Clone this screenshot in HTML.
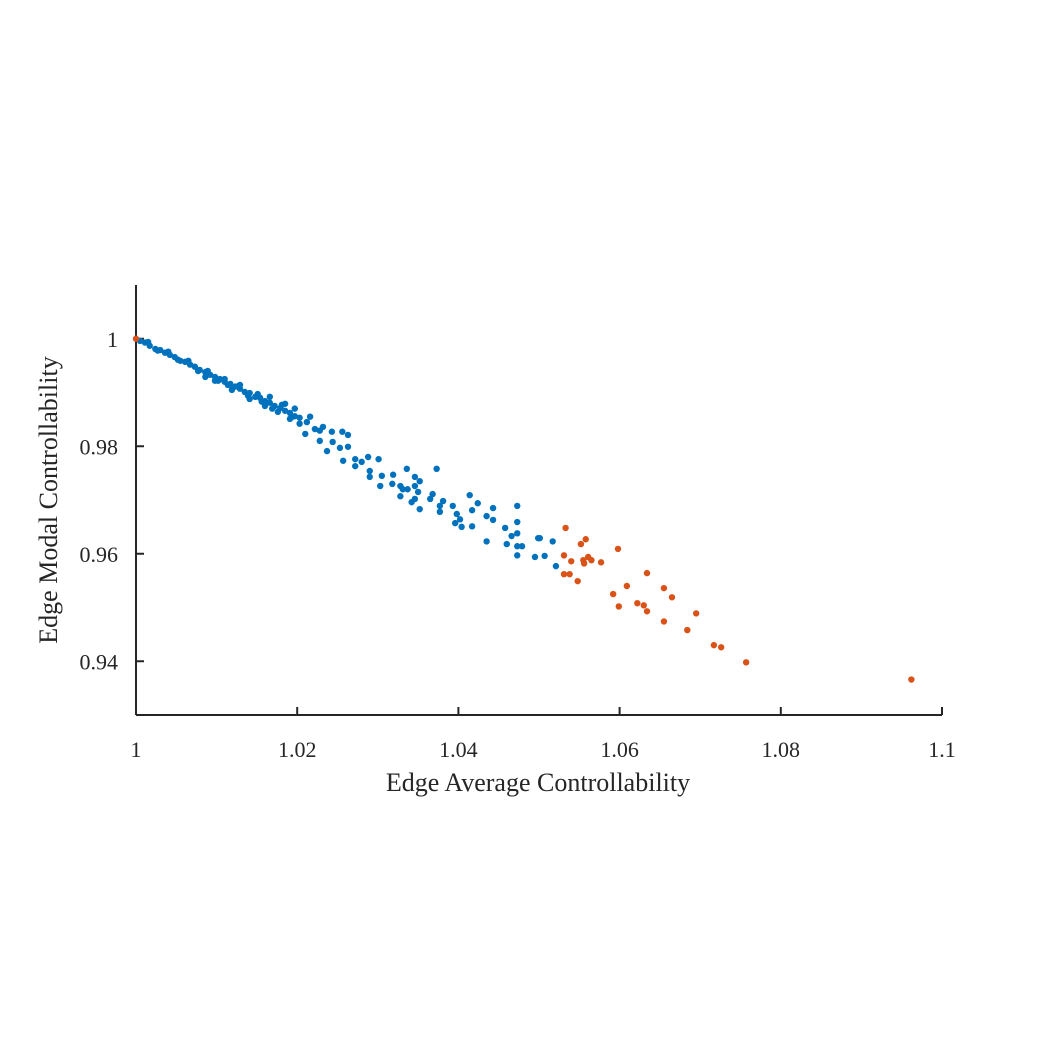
<!DOCTYPE html>
<html><head><meta charset="utf-8"><style>
body{margin:0;background:#fff}
svg text{font-family:"Liberation Serif",serif;fill:#262626}
</style></head><body>
<svg id="chart" width="1042" height="1042" viewBox="0 0 1042 1042" xmlns="http://www.w3.org/2000/svg">
<g id="axes"></g>
<g id="marks"></g>
<text x="538" y="791" font-size="26" text-anchor="middle">Edge Average Controllability</text>
<text transform="translate(57,500) rotate(-90)" font-size="26" text-anchor="middle">Edge Modal Controllability</text>
</svg>
<script>
const xTicks=[1,1.02,1.04,1.06,1.08,1.1];
const xTickLabels=["1","1.02","1.04","1.06","1.08","1.1"];
const yTicks=[0.94,0.96,0.98,1];
const yTickLabels=["0.94","0.96","0.98","1"];
const blueX=[1.0005,1.0011,1.0017,1.0024,1.0030,1.0036,1.0042,1.0048,1.0055,1.0061,1.0067,1.0073,1.0079,1.0086,1.0092,1.0098,1.0104,1.0110,1.0117,1.0123,1.0129,1.0135,1.0141,1.0148,1.0154,1.0160,1.0166,1.0172,1.0179,1.0185,1.0191,1.0197,1.0203,
1.0086,1.0098,1.0110,1.0119,1.0129,1.0141,1.0151,1.0160,1.0166,1.0176,1.0185,1.0191,1.0197,1.0203,1.0216,1.0222,1.0210,1.0228,1.0015,1.0027,1.0040,1.0052,1.0065,1.0077,1.0089,1.0102,1.0114,1.0127,1.0139,1.0156,1.0169,1.0181,1.0194,
1.0212,1.0232,1.0243,1.0256,1.0263,1.0228,1.0244,1.0253,1.0263,1.0237,1.0257,1.0272,1.0280,1.0288,1.0301,1.0272,1.0290,1.0305,1.0319,1.0336,1.0373,1.0290,1.0303,1.0318,1.0328,1.0346,1.0352,1.0331,1.0337,1.0346,1.0328,1.0342,1.0350,1.0346,1.0365,1.0368,1.0381,1.0377,1.0352,1.0377,1.0393,1.0414,1.0424,1.0417,1.0398,1.0402,1.0396,1.0404,1.0417,1.0443,1.0435,1.0443,1.0473,1.0473,1.0458,1.0466,1.0473,1.0435,1.0460,1.0473,1.0479,1.0473,1.0495,1.0501,1.0507,1.0499,1.0517,1.0521];
const blueY=[0.9996,0.9993,0.9987,0.9981,0.9979,0.9974,0.9970,0.9966,0.9959,0.9957,0.9952,0.9948,0.9942,0.9938,0.9933,0.9929,0.9925,0.9920,0.9916,0.9911,0.9907,0.9901,0.9899,0.9892,0.9890,0.9884,0.9881,0.9875,0.9871,0.9866,0.9862,0.9856,0.9853,
0.9929,0.9922,0.9925,0.9905,0.9914,0.9888,0.9897,0.9875,0.9892,0.9864,0.9879,0.9851,0.9870,0.9842,0.9855,0.9832,0.9823,0.9829,0.9994,0.9978,0.9976,0.9961,0.9959,0.9940,0.9940,0.9922,0.9914,0.9912,0.9894,0.9883,0.9870,0.9877,0.9855,
0.9845,0.9836,0.9827,0.9827,0.9821,0.9810,0.9808,0.9797,0.9799,0.9791,0.9773,0.9776,0.9771,0.9780,0.9776,0.9763,0.9754,0.9745,0.9747,0.9758,0.9758,0.9743,0.9726,0.9730,0.9726,0.9743,0.9735,0.9720,0.9720,0.9726,0.9707,0.9696,0.9715,0.9702,0.9702,0.9711,0.9698,0.9689,0.9683,0.9678,0.9689,0.9709,0.9694,0.9681,0.9674,0.9664,0.9657,0.9650,0.9651,0.9685,0.9670,0.9663,0.9689,0.9659,0.9648,0.9633,0.9638,0.9623,0.9618,0.9614,0.9614,0.9597,0.9594,0.9629,0.9596,0.9629,0.9623,0.9577];
const orangeX=[1.0533,1.0552,1.0558,1.0598,1.0531,1.0540,1.0555,1.0561,1.0565,1.0556,1.0577,1.0531,1.0538,1.0548,1.0634,1.0609,1.0655,1.0665,1.0592,1.0599,1.0622,1.0630,1.0634,1.0695,1.0655,1.0684,1.0717,1.0726,1.0757,1.0962,1.0];
const orangeY=[0.9648,0.9618,0.9627,0.9609,0.9597,0.9586,0.9588,0.9594,0.9588,0.9582,0.9584,0.9562,0.9562,0.9549,0.9564,0.9540,0.9536,0.9519,0.9525,0.9502,0.9508,0.9504,0.9493,0.9489,0.9474,0.9458,0.9430,0.9426,0.9398,0.9366,1.0];
const NS='http://www.w3.org/2000/svg';
const X0=136,X1=942,Y0=715,Y1=285;
const xMin=1,xMax=1.1,yMin=0.93,yMax=1.01;
function sx(v){return X0+(v-xMin)/(xMax-xMin)*(X1-X0);}
function sy(v){return Y0-(v-yMin)/(yMax-yMin)*(Y0-Y1);}
function mk(tag,attrs,parent){const e=document.createElementNS(NS,tag);for(const k in attrs)e.setAttribute(k,attrs[k]);parent.appendChild(e);return e;}
const axes=document.getElementById('axes'),marks=document.getElementById('marks');
let l=mk('line',{x1:X0,y1:Y0,x2:X1,y2:Y0,stroke:'#262626','stroke-width':2},axes);


l=mk('line',{x1:X0,y1:Y0,x2:X0,y2:Y1,stroke:'#262626','stroke-width':2},axes);


xTicks.forEach((t,i)=>{
 const x=sx(t);
 const tk=mk('line',{x1:x,y1:Y0,x2:x,y2:Y0-8,stroke:'#262626','stroke-width':2},axes);
 
 
 const tx=mk('text',{x:x,y:Y0+42,'font-size':22,'text-anchor':'middle'},axes);
 tx.textContent=xTickLabels[i];
 
 
});
yTicks.forEach((t,i)=>{
 const y=sy(t);
 const tk=mk('line',{x1:X0,y1:y,x2:X0+8,y2:y,stroke:'#262626','stroke-width':2},axes);
 
 
 const tx=mk('text',{x:X0-18,y:y+8,'font-size':22,'text-anchor':'end'},axes);
 tx.textContent=yTickLabels[i];
 
 
});
blueX.forEach((v,i)=>{
 const c=mk('circle',{cx:sx(v),cy:sy(blueY[i]),r:3.2,fill:'#0072BD'},marks);
 
 
});
orangeX.forEach((v,i)=>{
 const c=mk('circle',{cx:sx(v),cy:sy(orangeY[i]),r:3.2,fill:'#D95319'},marks);
 
 
});
</script>
</body></html>
